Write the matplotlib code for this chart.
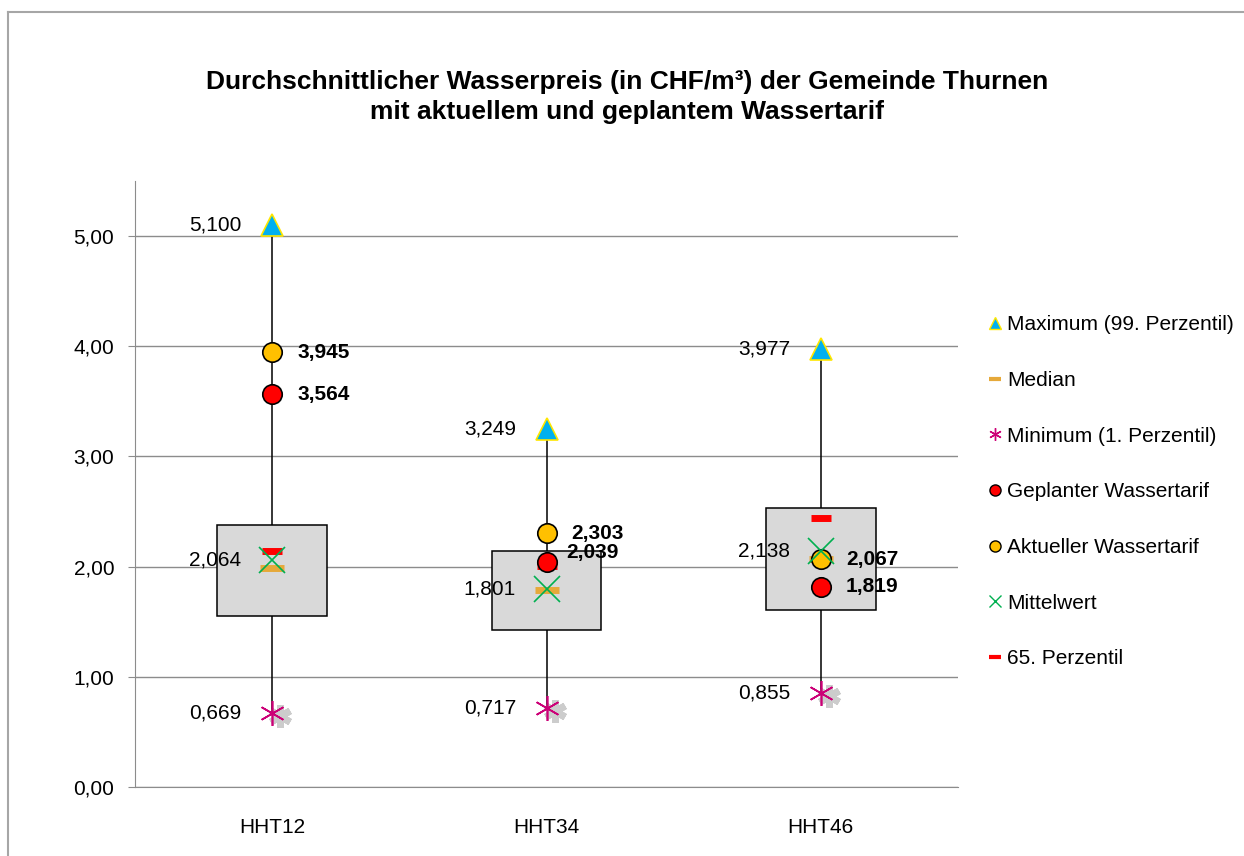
import matplotlib
matplotlib.use("Agg")
import matplotlib.pyplot as plt
import matplotlib.transforms as mtransforms
from matplotlib.lines import Line2D
from matplotlib.ticker import FuncFormatter
import numpy as np

plt.rcParams['font.family'] = ['Liberation Sans', 'DejaVu Sans']

# data
kategorien = ['HHT12', 'HHT34', 'HHT46']
maximum = [5.100, 3.249, 3.977]
minimum = [0.669, 0.717, 0.855]
mittelwert = [2.064, 1.801, 2.138]
median = [1.99, 1.79, 2.07]
p65 = [2.14, 2.01, 2.445]
quartil_unten = [1.555, 1.427, 1.609]
quartil_oben = [2.38, 2.145, 2.536]
aktuell = [3.945, 2.303, 2.067]
geplant = [3.564, 2.039, 1.819]

fs = 15

fig = plt.figure(figsize=(12.44, 8.56), dpi=100)
ax = fig.add_axes([135/1244, 69/856, 823/1244, 606/856])
x = np.arange(len(kategorien))

# whiskers and boxes
ax.vlines(x, minimum, maximum, color='black', lw=1.1, zorder=2)
ax.bar(x, np.array(quartil_oben) - np.array(quartil_unten), bottom=quartil_unten,
       width=0.4, color='#d9d9d9', edgecolor='black', lw=1.1, zorder=3)

# gray shadow of minimum marker
shadow = mtransforms.offset_copy(ax.transData, fig=fig, x=8, y=-3, units='dots')
ax.plot(x, minimum, ls='none', marker=(6, 2, 0), ms=16, mew=5, color='#9a9a9a',
        alpha=0.5, transform=shadow, zorder=4)
ax.plot(x, minimum, ls='none', marker=(6, 2, 0), ms=18, mew=1.2, color='#cc0077', zorder=5)

ax.plot(x, median, ls='none', marker='_', ms=17, mew=5, color='#e6a93a', zorder=5)
ax.plot(x, p65, ls='none', marker='_', ms=14, mew=5, color='#ff0000', zorder=5.5)
ax.plot(x, aktuell, ls='none', marker='o', ms=14, mfc='#ffc000', mec='black', mew=1.2, zorder=6)
ax.plot(x, geplant, ls='none', marker='o', ms=14, mfc='#ff0000', mec='black', mew=1.2, zorder=6)
ax.plot(x, mittelwert, ls='none', marker='x', ms=19, mew=1.2, color='#00b050', zorder=7)
ax.plot(x, maximum, ls='none', marker='^', ms=16, mfc='#00b0f0', mec='#ffe600', mew=1.2, zorder=6)


def fmt(v):
    return f'{v:.3f}'.replace('.', ',')


for i in x:
    for v in (maximum[i], mittelwert[i], minimum[i]):
        ax.annotate(fmt(v), (i, v), xytext=(-22, 0), textcoords='offset points',
                    ha='right', va='center', fontsize=fs, zorder=8)
    dy = 7 if i == 1 else 0
    ax.annotate(fmt(aktuell[i]), (i, aktuell[i]), xytext=(18, 0), textcoords='offset points',
                ha='left', va='center', fontsize=fs, fontweight='bold', zorder=8)
    ax.annotate(fmt(geplant[i]), (i, geplant[i]), xytext=(14 if i == 1 else 18, dy),
                textcoords='offset points', ha='left', va='center', fontsize=fs,
                fontweight='bold', zorder=8)

ax.set_xlim(-0.5, 2.5)
ax.set_ylim(0, 5.5)
ax.set_yticks(np.arange(0, 5.01, 1))
ax.yaxis.set_major_formatter(FuncFormatter(lambda v, p: f'{v:.2f}'.replace('.', ',')))
ax.set_xticks(x)
ax.set_xticklabels(kategorien)
ax.tick_params(axis='x', length=0, pad=22, labelsize=fs)
ax.tick_params(axis='y', length=5, pad=10, labelsize=fs, color='#8c8c8c')
ax.grid(axis='y', color='#8c8c8c', lw=1)
ax.set_axisbelow(True)
for s in ('top', 'right'):
    ax.spines[s].set_visible(False)
for s in ('left', 'bottom'):
    ax.spines[s].set_color('#8c8c8c')

fig.text(627/1244, 1 - 97/856,
         'Durchschnittlicher Wasserpreis (in CHF/m³) der Gemeinde Thurnen\nmit aktuellem und geplantem Wassertarif',
         ha='center', va='center', fontsize=19, fontweight='bold', linespacing=1.3)

# chart frame (left and top edge visible)
fig.add_artist(Line2D([8/1244, 8/1244], [0, 1 - 12/856], color='#a6a6a6', lw=1.5,
                      transform=fig.transFigure))
fig.add_artist(Line2D([8/1244, 1], [1 - 12/856, 1 - 12/856], color='#a6a6a6', lw=1.5,
                      transform=fig.transFigure))

handles = [
    Line2D([], [], ls='none', marker='^', ms=8, mfc='#00b0f0', mec='#ffe600'),
    Line2D([], [], ls='none', marker='_', ms=9, mew=3, color='#e6a93a'),
    Line2D([], [], ls='none', marker=(6, 2, 0), ms=9, mew=1, color='#cc0077'),
    Line2D([], [], ls='none', marker='o', ms=8, mfc='#ff0000', mec='black'),
    Line2D([], [], ls='none', marker='o', ms=8, mfc='#ffc000', mec='black'),
    Line2D([], [], ls='none', marker='x', ms=8, mew=1, color='#00b050'),
    Line2D([], [], ls='none', marker='_', ms=9, mew=3, color='#ff0000'),
]
labels = ['Maximum (99. Perzentil)', 'Median', 'Minimum (1. Perzentil)',
          'Geplanter Wassertarif', 'Aktueller Wassertarif', 'Mittelwert', '65. Perzentil']
fig.legend(handles, labels, loc='upper left', bbox_to_anchor=(979/1244, 1 - 307/856),
           frameon=False, fontsize=fs, labelspacing=1.76, handlelength=0.7,
           handletextpad=0.25, borderaxespad=0)

fig.savefig('out.png', dpi=100)
